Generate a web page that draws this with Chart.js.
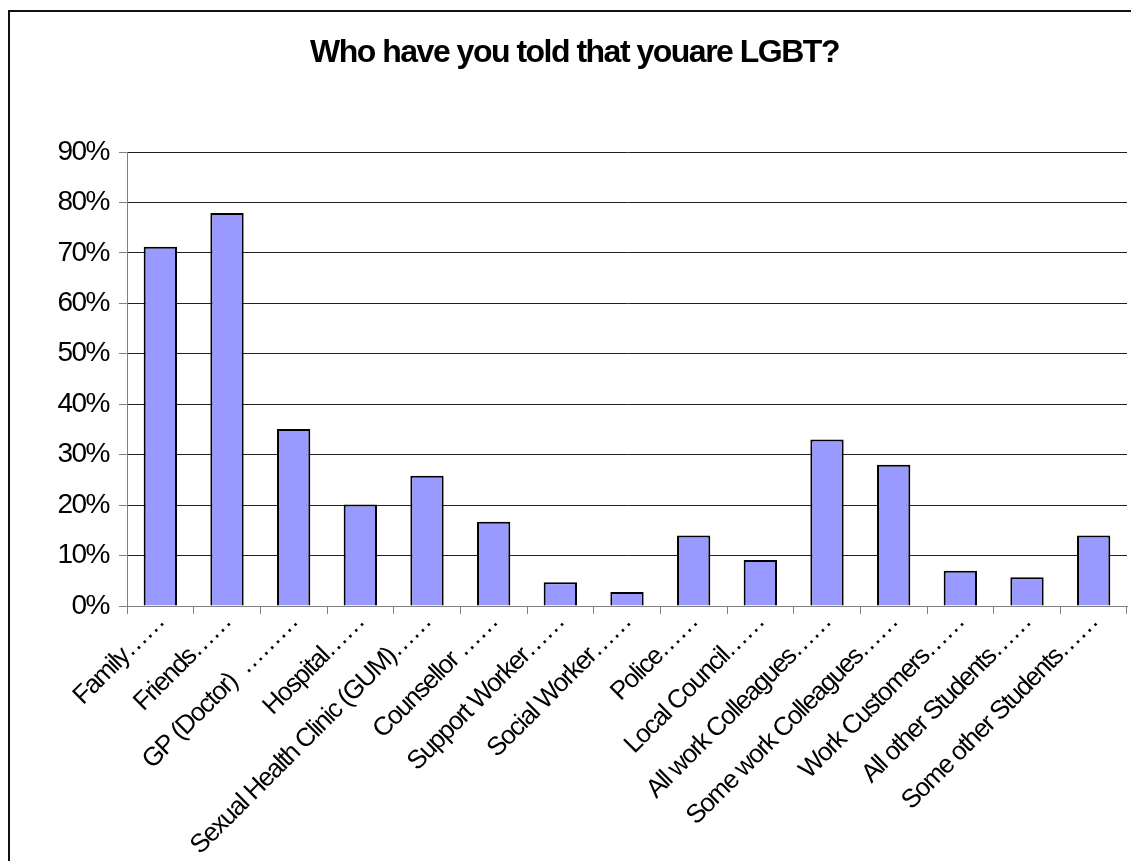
<!DOCTYPE html>
<html><head><meta charset="utf-8">
<script src="https://cdn.jsdelivr.net/npm/chart.js@4.4.1/dist/chart.umd.min.js"></script>
<style>
html,body{margin:0;padding:0;background:#fff;overflow:hidden;}
#wrap{position:relative;width:1131px;height:861px;}
#frame{position:absolute;left:8px;top:10px;width:1200px;height:1000px;border:2px solid #111;box-sizing:border-box;pointer-events:none;}
canvas{position:absolute;left:0;top:0;}
</style></head><body>
<div id="wrap"><canvas id="c" width="1131" height="861"></canvas><div id="frame"></div></div>
<script>
const chartTitle = 'Who have you told that youare LGBT?';
const categories = [
  'Family\u2026\u2026',
  'Friends\u2026\u2026',
  'GP (Doctor)  \u2026\u2026\u2026',
  'Hospital\u2026\u2026',
  'Sexual Health Clinic (GUM)\u2026\u2026',
  'Counsellor \u2026\u2026',
  'Support Worker\u2026\u2026',
  'Social Worker\u2026\u2026',
  'Police\u2026\u2026',
  'Local Council\u2026\u2026',
  'All work Colleagues\u2026\u2026',
  'Some work Colleagues\u2026\u2026',
  'Work Customers\u2026\u2026',
  'All other Students\u2026\u2026',
  'Some other Students\u2026\u2026'
];
const toldPercent = [71.2, 77.9, 35.1, 20.1, 25.8, 16.7, 4.7, 2.8, 14.0, 9.1, 33.0, 28.0, 7.0, 5.7, 14.0];
const yTickLabels = ['0%','10%','20%','30%','40%','50%','60%','70%','80%','90%'];

const FONT = "'Liberation Sans', Arial, sans-serif";
const tightText = {
  id: 'tightText',
  beforeLayout(c){ c.ctx.letterSpacing = '-1.5px'; },
  beforeDraw(c){ c.ctx.letterSpacing = '-1.5px'; }
};

new Chart(document.getElementById('c'), {
  type: 'bar',
  data: {
    labels: categories,
    datasets: [{
      data: toldPercent,
      backgroundColor: '#9999FF',
      borderColor: '#000000',
      borderWidth: 2,
      barPercentage: 0.5,
      categoryPercentage: 1.0
    }]
  },
  options: {
    responsive: false,
    devicePixelRatio: 1,
    animation: false,
    layout: { padding: { left: 22, right: 4, top: 0, bottom: 0 } },
    plugins: {
      legend: { display: false },
      tooltip: { enabled: false },
      title: {
        display: true,
        text: chartTitle,
        color: '#000',
        font: { family: FONT, size: 32, weight: 'bold', lineHeight: 1.2 },
        padding: { top: 34, bottom: 79.6 }
      }
    },
    scales: {
      x: {
        grid: { display: true, drawOnChartArea: false, drawTicks: true, tickLength: 8, offset: true, color: '#808080' },
        border: { display: true, color: '#808080', width: 1 },
        ticks: {
          color: '#000',
          font: { family: FONT, size: 26 },
          maxRotation: 45, minRotation: 45,
          autoSkip: false,
          padding: -7
        },
        afterFit(s){ s.height = 255; }
      },
      y: {
        min: 0, max: 90,
        ticks: {
          stepSize: 10,
          color: '#000',
          font: { family: FONT, size: 28 },
          padding: 10,
          callback: (v, i) => yTickLabels[i]
        },
        grid: { color: '#222', lineWidth: 1, tickLength: 8, tickColor: '#808080' },
        border: { display: true, color: '#808080', width: 1 },
        afterFit(s){ s.width = 105; }
      }
    }
  },
  plugins: [tightText]
});
</script>
</body></html>
